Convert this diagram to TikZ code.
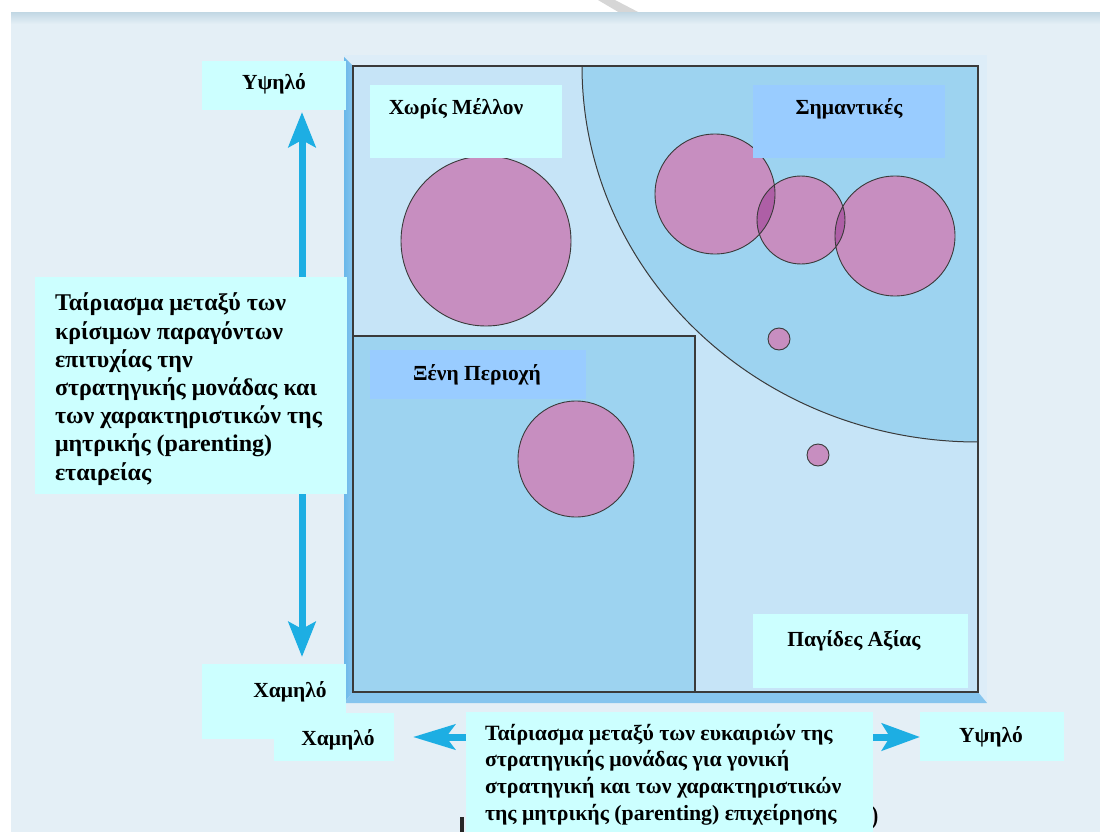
\documentclass[tikz,border=0pt]{standalone}
\usepackage{fontspec}
\setmainfont{Liberation Serif}
\usetikzlibrary{arrows.meta}

\definecolor{bg}{HTML}{E4EFF6}
\definecolor{bgtop}{HTML}{C4D9E5}
\definecolor{paleq}{HTML}{C6E4F7}
\definecolor{deepq}{HTML}{9DD3F0}
\definecolor{lblcyan}{HTML}{CCFFFF}
\definecolor{lblblue}{HTML}{99CCFF}
\definecolor{bubble}{HTML}{C78EC0}
\definecolor{bubbledark}{HTML}{AE5FA6}
\definecolor{axis}{HTML}{1DAEE3}
\definecolor{bevelside}{HTML}{86C5EE}
\definecolor{beveldeep}{HTML}{6AB8EA}
\definecolor{bevellight}{HTML}{DDEDF8}
\definecolor{edge}{HTML}{3A3A3A}

\tikzset{
  lbl/.style={font=\fontsize{21.5}{28}\selectfont\bfseries, inner sep=0pt, outer sep=0pt, text=black},
  cyanbox/.style={fill=lblcyan, inner sep=0pt, outer sep=0pt, anchor=north west},
  bluebox/.style={fill=lblblue, inner sep=0pt, outer sep=0pt, anchor=north west},
  bubblenode/.style={circle, fill=bubble, inner sep=0pt, outer sep=0pt},
  axisline/.style={draw=axis, line width=7pt},
}

\begin{document}
\begin{tikzpicture}[x=1pt, y=-1pt]
\useasboundingbox (0,0) rectangle (1100,832);
\fill[white] (0,0) rectangle (1100,832);
% grey stroke in the top margin
\fill[black!16] (598,0) -- (615,0) -- (640,13) -- (620,13) -- cycle;
% page background with darker top band
\fill[bg] (11,13) rectangle (1100,832);
\shade[top color=bgtop, bottom color=bg] (11,13) rectangle (1100,24);

% bevelled frame around the matrix
\fill[bevellight] (344,55) rectangle (987,703);
\shade[left color=beveldeep, right color=bevelside] (344,57) -- (353,66) -- (353,692) -- (344,703) -- cycle;
\fill[bevelside] (344,703) -- (353,692) -- (978,692) -- (987,703) -- cycle;

% matrix regions
\fill[paleq] (353,66) rectangle (978,692);
\begin{scope}
  \clip (353,66) rectangle (978,692);
  \fill[deepq] (978,66) ellipse [x radius=396, y radius=376];
  \draw[edge, line width=1pt] (978,66) ellipse [x radius=396, y radius=376];
\end{scope}
\fill[deepq] (353,336) rectangle (695,692);
\draw[edge, line width=1.2pt] (353,336) -- (695,336) -- (695,692);
\draw[edge, line width=1.5pt] (353,66) rectangle (978,692);

% bubbles
\node[bubblenode, minimum size=170pt] (b1) at (486,241) {};
\node[bubblenode, minimum size=120pt] (b2) at (715,194) {};
\node[bubblenode, minimum size=88pt]  (b3) at (801,220) {};
\node[bubblenode, minimum size=120pt] (b4) at (895,236) {};
\node[bubblenode, minimum size=22pt]  (b5) at (779,339) {};
\node[bubblenode, minimum size=22pt]  (b6) at (818,455) {};
\node[bubblenode, minimum size=116pt] (b7) at (576,459) {};
% darker lens where bubbles overlap
\begin{scope}
  \clip (715,194) circle (60);
  \fill[bubbledark] (801,220) circle (44);
\end{scope}
\begin{scope}
  \clip (895,236) circle (60);
  \fill[bubbledark] (801,220) circle (44);
\end{scope}
\draw[edge, line width=0.9pt] (486,241) circle (85) (715,194) circle (60)
  (801,220) circle (44) (895,236) circle (60) (779,339) circle (11)
  (818,455) circle (11) (576,459) circle (58);

% axis arrows
\coordinate (vlow) at (302,657);
\coordinate (vhigh) at (302,112);
\coordinate (hstartL) at (468,737);
\coordinate (hlow) at (413,737);
\coordinate (hstartR) at (870,737);
\coordinate (hhigh) at (920,737);
\draw[axisline, {Stealth[length=35pt,width=27pt,inset=7pt]}-{Stealth[length=35pt,width=27pt,inset=7pt]}] (vlow) -- (vhigh);
\draw[axisline, -{Stealth[length=42pt,width=25pt,inset=9pt]}] (hstartL) -- (hlow);
\draw[axisline, -{Stealth[length=38pt,width=27pt,inset=8pt]}] (hstartR) -- (hhigh);

% fragments of a line of text left underneath the boxes
\fill[black!85] (460,817) rectangle (464,832);
\node[font=\fontsize{28}{30}\selectfont, inner sep=0pt] (frag) at (874,818) {)};

% label boxes
\node[cyanbox, minimum width=144pt, minimum height=49pt] (hiYbox) at (202,61) {};
\node[cyanbox, minimum width=192pt, minimum height=73pt] (nofbox) at (370,85) {};
\node[bluebox, minimum width=192pt, minimum height=73pt] (impbox) at (753,85) {};
\node[bluebox, minimum width=216pt, minimum height=49pt] (forbox) at (370,350) {};
\node[cyanbox, minimum width=215pt, minimum height=74pt] (trpbox) at (753,614) {};
\node[cyanbox, minimum width=312pt, minimum height=217pt] (leftbox) at (35,277) {};
\node[cyanbox, minimum width=144pt, minimum height=75pt] (loYbox) at (202,664) {};
\node[cyanbox, minimum width=120pt, minimum height=48pt] (loXbox) at (274,713) {};
\node[cyanbox, minimum width=407pt, minimum height=120pt] (botbox) at (466,712) {};
\node[cyanbox, minimum width=144pt, minimum height=49pt] (hiXbox) at (920,712) {};

% texts
\node[lbl, anchor=base] (hiY) at (274,90) {Υψηλό};
\node[lbl, anchor=base] (nof) at (456,115) {Χωρίς Μέλλον};
\node[lbl, anchor=base] (imp) at (849,115) {Σημαντικές};
\node[lbl, anchor=base] (for) at (477,380) {Ξένη Περιοχή};
\node[lbl, anchor=base] (trp) at (854,646) {Παγίδες Αξίας};
\node[lbl, anchor=north west, align=left, font=\fontsize{24}{28.2}\selectfont\bfseries] (lefttxt) at (55,293)
  {Ταίριασμα μεταξύ των\\κρίσιμων παραγόντων\\επιτυχίας την\\στρατηγικής μονάδας και\\των χαρακτηριστικών της\\μητρικής (parenting)\\εταιρείας};
\node[lbl, anchor=base] (loY) at (290,697) {Χαμηλό};
\node[lbl, anchor=base] (loX) at (338,745) {Χαμηλό};
\node[lbl, anchor=north west, align=left, font=\fontsize{21.8}{26.7}\selectfont\bfseries] (bottxt) at (485,724)
  {Ταίριασμα μεταξύ των ευκαιριών της\\στρατηγικής μονάδας για γονική\\στρατηγική και των χαρακτηριστικών\\της μητρικής (parenting) επιχείρησης};
\node[lbl, anchor=base] (hiX) at (991,742) {Υψηλό};
\end{tikzpicture}
\end{document}
